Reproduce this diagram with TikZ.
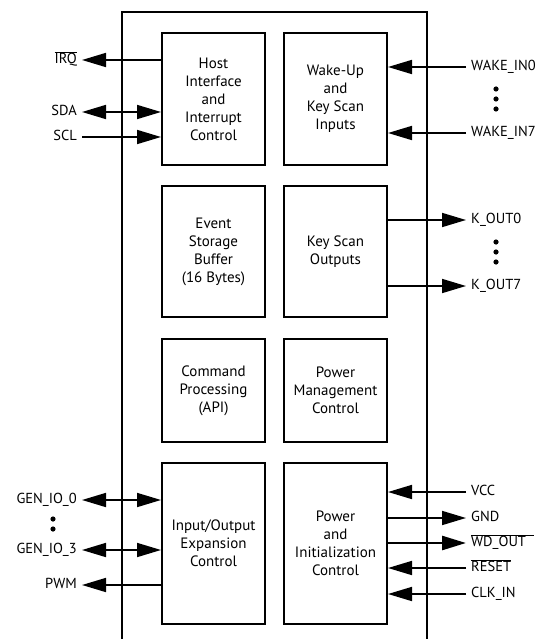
\documentclass[tikz,border=0pt]{standalone}
\usepackage{fontspec}
\setmainfont{PT Sans}
\usetikzlibrary{arrows.meta}
\newcommand\ovl[1]{\ensuremath{\overline{\mbox{#1}}}}
\begin{document}
\begin{tikzpicture}[x=1pt,y=-1pt,
  blk/.style={draw, line width=2pt, minimum width=103pt, align=center, inner sep=0pt,
    font=\fontsize{15}{18}\selectfont},
  lbl/.style={inner ysep=0pt, inner xsep=5pt, text height=10.5pt, text depth=3pt,
    font=\fontsize{14.5}{16}\selectfont},
  tipA/.tip={Triangle[length=24pt,width=14pt]},
  sig/.style={line width=1.7pt, -tipA},
  bidir/.style={line width=1.7pt, tipA-tipA},
]
\useasboundingbox (0,0) rectangle (540,639);
% outer package outline (open at bottom)
\draw[line width=2pt] (122,640) -- (122,12) -- (427,12) -- (427,640);

% blocks
\node[blk, minimum height=132pt] (host) at (213.5,99) {Host\\Interface\\and\\Interrupt\\Control};
\node[blk, minimum height=132pt] (wake) at (335.5,99) {Wake-Up\\and\\Key Scan\\Inputs};
\node[blk, minimum height=131pt] (event) at (213.5,251.5) {Event\\Storage\\Buffer\\(16 Bytes)};
\node[blk, minimum height=131pt] (kscan) at (335.5,251.5) {Key Scan\\Outputs};
\node[blk, minimum height=103pt] (cmd) at (213.5,390.5) {Command\\Processing\\(API)};
\node[blk, minimum height=103pt] (pm) at (335.5,390.5) {Power\\Management\\Control};
\node[blk, minimum height=161pt] (io) at (213.5,543.5) {Input/Output\\Expansion\\Control};
\node[blk, minimum height=161pt] (pwr) at (335.5,543.5) {Power\\and\\Initialization\\Control};

% left labels
\node[lbl, anchor=east] (irq) at (82,60) {\ovl{IRQ}};
\node[lbl, anchor=east] (sda) at (82,112) {SDA};
\node[lbl, anchor=east] (scl) at (82,137) {SCL};
\node[lbl, anchor=east] (gio0) at (82,500) {GEN\_IO\_0};
\node[lbl, anchor=east] (gio3) at (82,550) {GEN\_IO\_3};
\node[lbl, anchor=east] (pwm) at (82,585) {PWM};

% right labels
\node[lbl, anchor=west] (wi0) at (466,67) {WAKE\_IN0};
\node[lbl, anchor=west] (wi7) at (466,133) {WAKE\_IN7};
\node[lbl, anchor=west] (ko0) at (466,220) {K\_OUT0};
\node[lbl, anchor=west] (ko7) at (466,286) {K\_OUT7};
\node[lbl, anchor=west] (vcc) at (466,492) {VCC};
\node[lbl, anchor=west] (gnd) at (466,518) {GND};
\node[lbl, anchor=west] (wdo) at (466,543) {$\overline{\mbox{WD\_OUT}\hspace{8pt}}$};
\node[lbl, anchor=west] (rst) at (466,568) {\ovl{RESET}};
\node[lbl, anchor=west] (clk) at (466,594) {CLK\_IN};

% connectors left
\draw[sig] (host.west |- irq.east) -- (irq.east);
\draw[bidir] (sda.east) -- (host.west |- sda.east);
\draw[sig] (scl.east) -- (host.west |- scl.east);
\draw[bidir] (gio0.east) -- (io.west |- gio0.east);
\draw[bidir] (gio3.east) -- (io.west |- gio3.east);
\draw[sig] (io.west |- pwm.east) -- (pwm.east);

% connectors right
\draw[sig] (wi0.west) -- (wake.east |- wi0.west);
\draw[sig] (wi7.west) -- (wake.east |- wi7.west);
\draw[sig] (kscan.east |- ko0.west) -- (ko0.west);
\draw[sig] (kscan.east |- ko7.west) -- (ko7.west);
\draw[sig] (vcc.west) -- (pwr.east |- vcc.west);
\draw[sig] (pwr.east |- gnd.west) -- (gnd.west);
\draw[sig, line width=2.6pt] (pwr.east |- wdo.west) -- (wdo.west);
\draw[sig] (rst.west) -- (pwr.east |- rst.west);
\draw[sig] (clk.west) -- (pwr.east |- clk.west);

% ellipsis dots
\foreach \y in {89,99,109} \fill (496,\y) circle (2.6pt);
\foreach \y in {242,252,262} \fill (496,\y) circle (2.6pt);
\foreach \y in {519,529} \fill (53,\y) circle (2.6pt);
\end{tikzpicture}
\end{document}
